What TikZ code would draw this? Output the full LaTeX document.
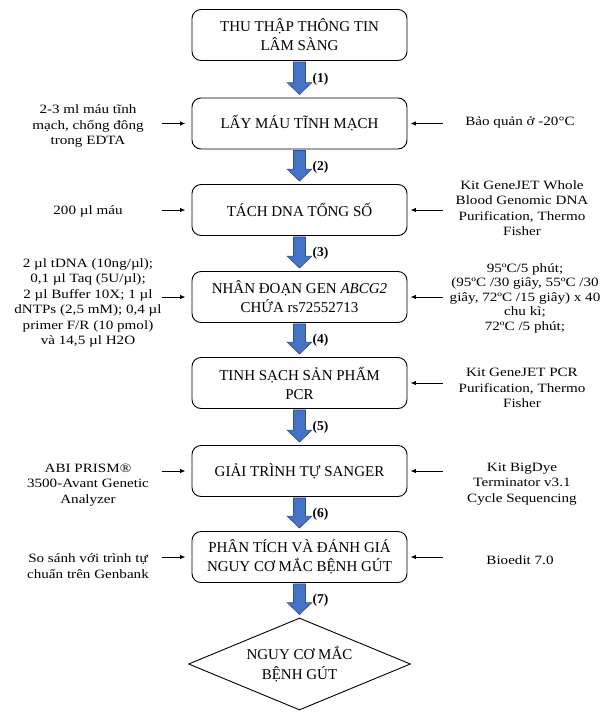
\documentclass[tikz,border=0pt]{standalone}
\usepackage{fontspec}
\setmainfont{Liberation Serif}
\newfontfamily\sidefont[FakeStretch=1.19]{Liberation Serif}
\usetikzlibrary{calc,arrows.meta,shapes.geometric}
\definecolor{arrblue}{HTML}{4472C4}
\definecolor{arredge}{HTML}{2F528F}
\tikzset{
  stepbox/.style={draw, rounded corners=9pt, minimum width=215pt, minimum height=51pt,
    align=center, font=\fontsize{15}{19}\selectfont, line width=0.9pt, inner sep=2pt},
  decbox/.style={draw, diamond, shape aspect=2.4, minimum width=222pt, minimum height=92pt,
    align=center, font=\fontsize{15}{20.5}\selectfont, line width=0.9pt, inner sep=0pt},
  sidetext/.style={align=center, font=\sidefont\fontsize{12.7}{15.5}\selectfont, inner sep=0pt},
  lab/.style={font=\bfseries\fontsize{13.5}{15}\selectfont, inner sep=0pt},
  sarrow/.style={-{Latex[length=5.5pt,width=4.5pt]}, line width=1pt},
  blk/.style={fill=arrblue, draw=arredge, line width=0.6pt, line join=miter}
}
\newcommand\blockarr[2]{%
  \path[blk] let \p1=(#1.south), \p2=(#2.north) in
    (\x1-6pt,\y1-1pt) -- (\x1+6pt,\y1-1pt) -- (\x1+6pt,\y2+15pt)
    -- (\x1+12.5pt,\y2+15pt) -- (\x1,\y2+3pt) -- (\x1-12.5pt,\y2+15pt)
    -- (\x1-6pt,\y2+15pt) -- cycle;}
\begin{document}
\begin{tikzpicture}[x=1pt,y=-1pt]
\useasboundingbox (0,0) rectangle (612,718);
% main steps
\node[stepbox] (b1) at (299.5,35) {THU THẬP THÔNG TIN\\LÂM SÀNG};
\node[stepbox] (b2) at (299.5,123.5) {LẤY MÁU TĨNH MẠCH};
\node[stepbox] (b3) at (299.5,210) {TÁCH DNA TỔNG SỐ};
\node[stepbox] (b4) at (299.5,297) {NHÂN ĐOẠN GEN \textit{ABCG2}\\CHỨA rs72552713};
\node[stepbox] (b5) at (299.5,383) {TINH SẠCH SẢN PHẨM\\PCR};
\node[stepbox] (b6) at (299.5,471) {GIẢI TRÌNH TỰ SANGER};
\node[stepbox] (b7) at (299.5,557) {PHÂN TÍCH VÀ ĐÁNH GIÁ\\NGUY CƠ MẮC BỆNH GÚT};
\node[decbox] (d) at (299.5,664) {NGUY CƠ MẮC\\BỆNH GÚT};
% block arrows
\blockarr{b1}{b2}
\blockarr{b2}{b3}
\blockarr{b3}{b4}
\blockarr{b4}{b5}
\blockarr{b5}{b6}
\blockarr{b6}{b7}
\blockarr{b7}{d}
\node[lab] (n1) at ($(b1.south)!0.5!(b2.north)+(21,0)$) {(1)};
\node[lab] (n2) at ($(b2.south)!0.5!(b3.north)+(21,0)$) {(2)};
\node[lab] (n3) at ($(b3.south)!0.5!(b4.north)+(21,0)$) {(3)};
\node[lab] (n4) at ($(b4.south)!0.5!(b5.north)+(21,0)$) {(4)};
\node[lab] (n5) at ($(b5.south)!0.5!(b6.north)+(21,0)$) {(5)};
\node[lab] (n6) at ($(b6.south)!0.5!(b7.north)+(21,0)$) {(6)};
\node[lab] (n7) at ($(b7.south)!0.5!(d.north)+(21,0)$) {(7)};
% left texts
\node[sidetext] (L2) at (88,126) {2-3 ml máu tĩnh\\mạch, chống đông\\trong EDTA};
\node[sidetext] (L3) at (88,211) {200 µl máu};
\node[sidetext] (L4) at (88,303) {2 µl tDNA (10ng/µl);\\0,1 µl Taq (5U/µl);\\2 µl Buffer 10X; 1 µl\\dNTPs (2,5 mM); 0,4 µl\\primer F/R (10 pmol)\\và 14,5 µl H2O};
\node[sidetext] (L6) at (88,485) {ABI PRISM®\\3500-Avant Genetic\\Analyzer};
\node[sidetext] (L7) at (88,566) {So sánh với trình tự\\chuẩn trên Genbank};
% right texts
\node[sidetext] (R2) at (520,122) {Bảo quản ở -20°C};
\node[sidetext] (R3) at (522,208) {Kit GeneJET Whole\\Blood Genomic DNA\\Purification, Thermo\\Fisher};
\node[sidetext, font=\sidefont\fontsize{12.7}{14.5}\selectfont] (R4) at (525,298) {95ºC/5 phút;\\(95ºC /30 giây, 55ºC /30\\giây, 72ºC /15 giây) x 40\\chu kì;\\72ºC /5 phút;};
\node[sidetext] (R5) at (522,388) {Kit GeneJET PCR\\Purification, Thermo\\Fisher};
\node[sidetext] (R6) at (522,484) {Kit BigDye\\Terminator v3.1\\Cycle Sequencing};
\node[sidetext] (R7) at (520,560) {Bioedit 7.0};
% side arrows
\foreach \k in {2,3,4,6,7} {
  \coordinate (la\k) at ($(b\k.west)+(-30,0)$);
  \draw[sarrow, shorten >=6pt] (la\k) -- (b\k.west);
}
\foreach \k in {2,3,4,5,6,7} {
  \coordinate (ra\k) at ($(b\k.east)+(36,0)$);
  \draw[sarrow, shorten >=3pt] (ra\k) -- (b\k.east);
}
\end{tikzpicture}
\end{document}
